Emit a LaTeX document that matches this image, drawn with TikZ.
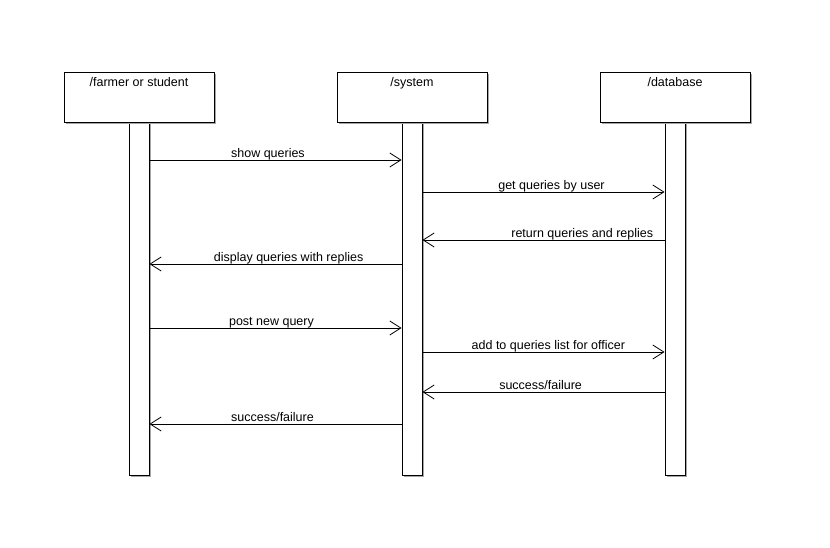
\documentclass[tikz,border=0pt]{standalone}
\usepackage{fontspec}
\setmainfont{Liberation Sans}
\usetikzlibrary{arrows.meta,shadows}
\tikzset{
    MyShadow/.style={drop shadow={shadow xshift=1.6pt,shadow yshift=-1.6pt,fill=black!35,opacity=1}},
    MyHead/.style={draw=black,fill=white,line width=0.9pt,minimum width=150pt,minimum height=50pt,inner sep=0pt,MyShadow},
    MyLife/.style={draw=black,fill=white,line width=0.9pt,minimum width=20pt,minimum height=353pt,inner sep=0pt,MyShadow},
    MyMsg/.style={-{Straight Barb[length=11pt,width=14pt,line width=0.8pt]},line width=0.8pt},
    MyLbl/.style={anchor=south,inner sep=0pt,text depth=2.4pt}
}

\begin{document}
\begin{tikzpicture}[x=1pt,y=-1pt,every node/.style={font=\fontsize{12.5}{14}\selectfont}]
    \useasboundingbox (0,0) rectangle (830,548);

    % lifelines: heads and bars
    \foreach \n/\x/\name in {1/139/{/farmer or student},2/412/{/system},3/675/{/database}}
    {
    \node[MyLife] (l\n) at (\x,298.5) {};
    \node[MyHead,label={[anchor=north,inner sep=5.5pt]north:\name}] (h\n) at (\x,97) {};
    }

    % message rows
    \foreach \r/\y in {1/160,2/192,3/240,4/264,5/328,6/352,7/392,8/424}
        \coordinate (r\r) at (0,\y);

    \draw[MyMsg] (l1.east |- r1) -- (l2.west |- r1) node[MyLbl,pos=.47] {show queries};
    \draw[MyMsg] (l2.east |- r2) -- (l3.west |- r2) node[MyLbl,pos=.533] {get queries by user};
    \draw[MyMsg] (l3.west |- r3) -- (l2.east |- r3) node[MyLbl,pos=.34] {return queries and replies};
    \draw[MyMsg] (l2.west |- r4) -- (l1.east |- r4) node[MyLbl,pos=.448] {display queries with replies};
    \draw[MyMsg] (l1.east |- r5) -- (l2.west |- r5) node[MyLbl,pos=.484] {post new query};
    \draw[MyMsg] (l2.east |- r6) -- (l3.west |- r6) node[MyLbl,pos=.52] {add to queries list for officer};
    \draw[MyMsg] (l3.west |- r7) -- (l2.east |- r7) node[MyLbl,pos=.512] {success/failure};
    \draw[MyMsg] (l2.west |- r8) -- (l1.east |- r8) node[MyLbl,pos=.512] {success/failure};
\end{tikzpicture}
\end{document}
